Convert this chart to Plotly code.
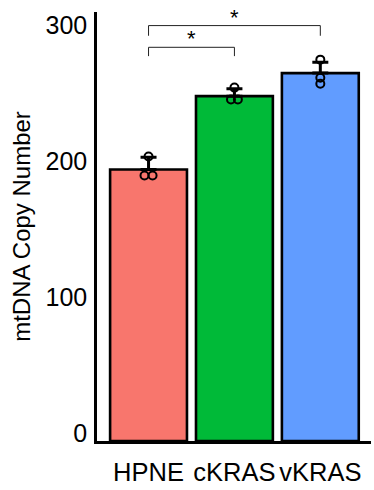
import plotly.graph_objects as go

categories = ["HPNE", "cKRAS", "vKRAS"]
bar_means = [200, 254, 271]
bar_sd = [9, 5.5, 8]
points = [[209.6, 195.6, 195.6], [260.3, 251.5, 251.5], [280.9, 267.6, 263.2]]
point_jitter = [[0, -0.047, 0.047], [0, -0.04, 0.04], [0, 0, 0]]
colors = ["#F8766D", "#00BA38", "#619CFF"]
y_ticks = [0, 100, 200, 300]
comparisons = [(0, 1, 290, 283.5), (0, 2, 306, 298.5)]
sig_labels = ["*", "*"]

FONT = "Liberation Sans, Arial, sans-serif"
xpos = list(range(len(categories)))

fig = go.Figure()
fig.add_trace(go.Bar(
    x=xpos, y=bar_means, width=0.895,
    marker=dict(color=colors, line=dict(color="black", width=2.6)),
    error_y=dict(type="data", array=bar_sd, arrayminus=[0] * 3, symmetric=False,
                 color="black", thickness=3, width=8),
    showlegend=False, hoverinfo="skip",
))

px_, py_ = [], []
for i, vals in enumerate(points):
    for v, j in zip(vals, point_jitter[i]):
        px_.append(xpos[i] + j)
        py_.append(v)
fig.add_trace(go.Scatter(
    x=px_, y=py_, mode="markers",
    marker=dict(symbol="circle-open", size=8, color="black", line=dict(width=2)),
    showlegend=False, hoverinfo="skip",
))

shapes = []
annotations = []
for (a, b, top, drop), lab in zip(comparisons, sig_labels):
    xa, xb = xpos[a], xpos[b]
    for (x0, y0, x1, y1) in [(xa, drop, xa, top), (xa, top, xb, top), (xb, top, xb, drop)]:
        shapes.append(dict(type="line", xref="x", yref="y", x0=x0, y0=y0, x1=x1, y1=y1,
                           line=dict(color="#222222", width=1)))
    annotations.append(dict(x=(xa + xb) / 2, y=top, xref="x", yref="y", text=lab,
                            showarrow=False, yanchor="bottom", yshift=-6,
                            font=dict(family=FONT, size=22, color="black")))

fig.update_layout(
    width=374, height=490,
    margin=dict(l=97, r=3, t=12, b=49, autoexpand=False),
    plot_bgcolor="white", paper_bgcolor="white",
    shapes=shapes, annotations=annotations,
    xaxis=dict(range=[-0.6, 2.59], tickvals=xpos, ticktext=categories,
               showline=True, linecolor="black", linewidth=3, showgrid=False,
               zeroline=False, ticks="", ticklabelstandoff=6, automargin=False,
               tickfont=dict(family=FONT, size=25.5, color="black")),
    yaxis=dict(range=[0, 316], tickvals=y_ticks, showline=True, linecolor="black",
               linewidth=2.5, showgrid=False, zeroline=False, ticks="",
               ticklabelshift=-8, ticklabelstandoff=2, automargin=False,
               tickfont=dict(family=FONT, size=25, color="black"),
               title=dict(text="mtDNA Copy Number", standoff=9,
                          font=dict(family=FONT, size=24, color="black"))),
)

fig.write_html("out.html", config={"displayModeBar": False},
               post_script="document.body.style.margin='0';")
